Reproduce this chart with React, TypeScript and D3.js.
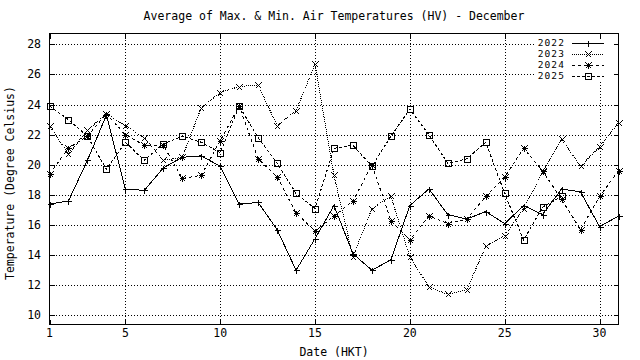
import React, { useEffect, useRef } from 'react';
import * as d3 from 'd3';

const days = [1, 2, 3, 4, 5, 6, 7, 8, 9, 10, 11, 12, 13, 14, 15, 16, 17, 18, 19, 20, 21, 22, 23, 24, 25, 26, 27, 28, 29, 30, 31];
const xTicks = [1, 5, 10, 15, 20, 25, 30];
const yTicks = [10, 12, 14, 16, 18, 20, 22, 24, 26, 28];

const t2022 = [17.4, 17.6, 20.3, 23.3, 18.4, 18.3, 19.8, 20.5, 20.6, 19.9, 17.4, 17.5, 15.7, 13.0, 15.1, 17.3, 14.1, 13.0, 13.7, 17.3, 18.4, 16.7, 16.4, 16.9, 16.1, 17.3, 16.7, 18.4, 18.2, 15.9, 16.6];
const t2023 = [22.6, 20.7, 22.3, 23.4, 22.6, 21.8, 20.3, 20.5, 23.8, 24.8, 25.2, 25.3, 22.6, 23.6, 26.7, 19.3, 13.9, 17.1, 17.9, 13.9, 11.9, 11.4, 11.7, 14.6, 15.3, 17.1, 19.5, 21.7, 19.9, 21.2, 22.8];
const t2024 = [19.4, 21.1, 21.9, 23.4, 22.0, 21.3, 21.3, 19.1, 19.3, 21.6, 23.9, 20.4, 19.2, 16.8, 15.6, 16.6, 17.6, 20.0, 16.3, 15.0, 16.6, 16.1, 16.4, 17.9, 19.2, 21.1, 19.6, 17.7, 15.7, 17.9, 19.6];
const t2025 = [23.9, 23.0, 21.9, 19.7, 21.5, 20.3, 21.4, 21.9, 21.5, 20.8, 23.9, 21.8, 20.1, 18.1, 17.1, 21.1, 21.3, 19.9, 21.9, 23.7, 22.0, 20.1, 20.4, 21.5, 18.1, 15.0, 17.2, 17.9];

const seriesNames = ['2022', '2023', '2024', '2025'];
const seriesValues = [t2022, t2023, t2024, t2025];
const dashes = ['none', '1,1', '3,3', '3,2'];
const markers = ['plus', 'cross', 'star', 'square'];

const FONT = '"DejaVu Sans Mono", "Liberation Mono", monospace';

const App: React.FC = () => {
  const svgRef = useRef<SVGSVGElement>(null);

  useEffect(() => {
    if (!svgRef.current) return;
    const width = 640;
    const height = 360;
    const left = 49.5, right = 618.5, top = 33.5, bottom = 324.5;

    const svg = d3.select(svgRef.current);
    svg.selectAll('*').remove();

    svg.append('rect').attr('width', width).attr('height', height).attr('fill', '#fff');

    const x = d3.scaleLinear().domain([1, 31]).range([left, right]);
    const y = d3.scaleLinear().domain([9.4, 28.72]).range([bottom, top]);

    const marks = svg.append('g').attr('shape-rendering', 'crispEdges');

    // grid
    const grid = marks.append('g').attr('stroke', '#000').attr('stroke-dasharray', '1,2');
    yTicks.forEach(t => {
      grid.append('line').attr('x1', left).attr('x2', right)
        .attr('y1', Math.round(y(t)) + 0.5).attr('y2', Math.round(y(t)) + 0.5);
    });
    xTicks.filter(t => t > 1).forEach(t => {
      grid.append('line').attr('y1', top).attr('y2', bottom)
        .attr('x1', Math.round(x(t)) + 0.5).attr('x2', Math.round(x(t)) + 0.5);
    });

    // opaque key box
    marks.append('rect').attr('x', 536).attr('y', 37).attr('width', 76).attr('height', 44).attr('fill', '#fff');

    // border + ticks
    marks.append('rect').attr('x', left).attr('y', top).attr('width', right - left).attr('height', bottom - top)
      .attr('fill', 'none').attr('stroke', '#000');
    const tk = marks.append('g').attr('stroke', '#000');
    yTicks.forEach(t => {
      const yy = Math.round(y(t)) + 0.5;
      tk.append('line').attr('x1', left).attr('x2', left + 5).attr('y1', yy).attr('y2', yy);
      tk.append('line').attr('x1', right - 5).attr('x2', right).attr('y1', yy).attr('y2', yy);
    });
    xTicks.forEach(t => {
      const xx = Math.round(x(t)) + 0.5;
      tk.append('line').attr('x1', xx).attr('x2', xx).attr('y1', bottom).attr('y2', bottom - 5);
      tk.append('line').attr('x1', xx).attr('x2', xx).attr('y1', top).attr('y2', top + 5);
    });

    const text = svg.append('g').attr('font-family', FONT).attr('font-size', 11.5).attr('fill', '#000');
    yTicks.forEach(t => {
      text.append('text').attr('x', 41).attr('y', y(t)).attr('dy', '0.35em')
        .attr('text-anchor', 'end').text(t);
    });
    xTicks.forEach(t => {
      text.append('text').attr('x', x(t)).attr('y', 337).attr('text-anchor', 'middle').text(t);
    });
    text.append('text').attr('x', (left + right) / 2).attr('y', 20).attr('text-anchor', 'middle')
      .text('Average of Max. & Min. Air Temperatures (HV) - December');
    text.append('text').attr('x', (left + right) / 2).attr('y', 356).attr('text-anchor', 'middle')
      .text('Date (HKT)');
    text.append('text')
      .attr('transform', 'translate(14, 183) rotate(-90)')
      .attr('text-anchor', 'middle').text('Temperature (Degree Celsius)');

    const drawMarker = (g: any, kind: string, cx: number, cy: number) => {
      const px = Math.round(cx) + 0.5, py = Math.round(cy) + 0.5;
      const s = 3;
      if (kind === 'plus' || kind === 'star') {
        g.append('line').attr('x1', px - s).attr('x2', px + s).attr('y1', py).attr('y2', py);
        g.append('line').attr('x1', px).attr('x2', px).attr('y1', py - s).attr('y2', py + s);
      }
      if (kind === 'cross' || kind === 'star') {
        g.append('line').attr('x1', px - s).attr('x2', px + s).attr('y1', py - s).attr('y2', py + s);
        g.append('line').attr('x1', px - s).attr('x2', px + s).attr('y1', py + s).attr('y2', py - s);
      }
      if (kind === 'square') {
        g.append('rect').attr('x', px - s).attr('y', py - s).attr('width', 2 * s).attr('height', 2 * s)
          .attr('fill', 'none');
      }
    };

    const line = d3.line<number>()
      .x((d, i) => x(days[i]))
      .y(d => y(d));

    seriesValues.forEach((vals, si) => {
      const g = marks.append('g').attr('stroke', '#000').attr('fill', 'none');
      g.append('path').datum(vals).attr('d', line)
        .attr('stroke-dasharray', dashes[si]);
      const mg = g.append('g');
      vals.forEach((v, i) => drawMarker(mg, markers[si], x(days[i]), y(v)));

      // key entry
      const ky = 42.5 + si * 11.1;
      text.append('text').attr('x', 565).attr('y', ky).attr('dy', '0.35em').attr('text-anchor', 'end')
        .attr('font-size', 9.5).attr('letter-spacing', 1.1)
        .text(seriesNames[si]);
      const kg = marks.append('g').attr('stroke', '#000').attr('fill', 'none');
      kg.append('line').attr('x1', 572).attr('x2', 604)
        .attr('y1', Math.round(ky) + 0.5).attr('y2', Math.round(ky) + 0.5)
        .attr('stroke-dasharray', dashes[si]);
      drawMarker(kg, markers[si], 588, ky);
    });
  }, []);

  return (
    <svg ref={svgRef} width={640} height={360}
      style={{ display: 'block', position: 'absolute', left: 0, top: 0 }}></svg>
  );
};

export default App;
